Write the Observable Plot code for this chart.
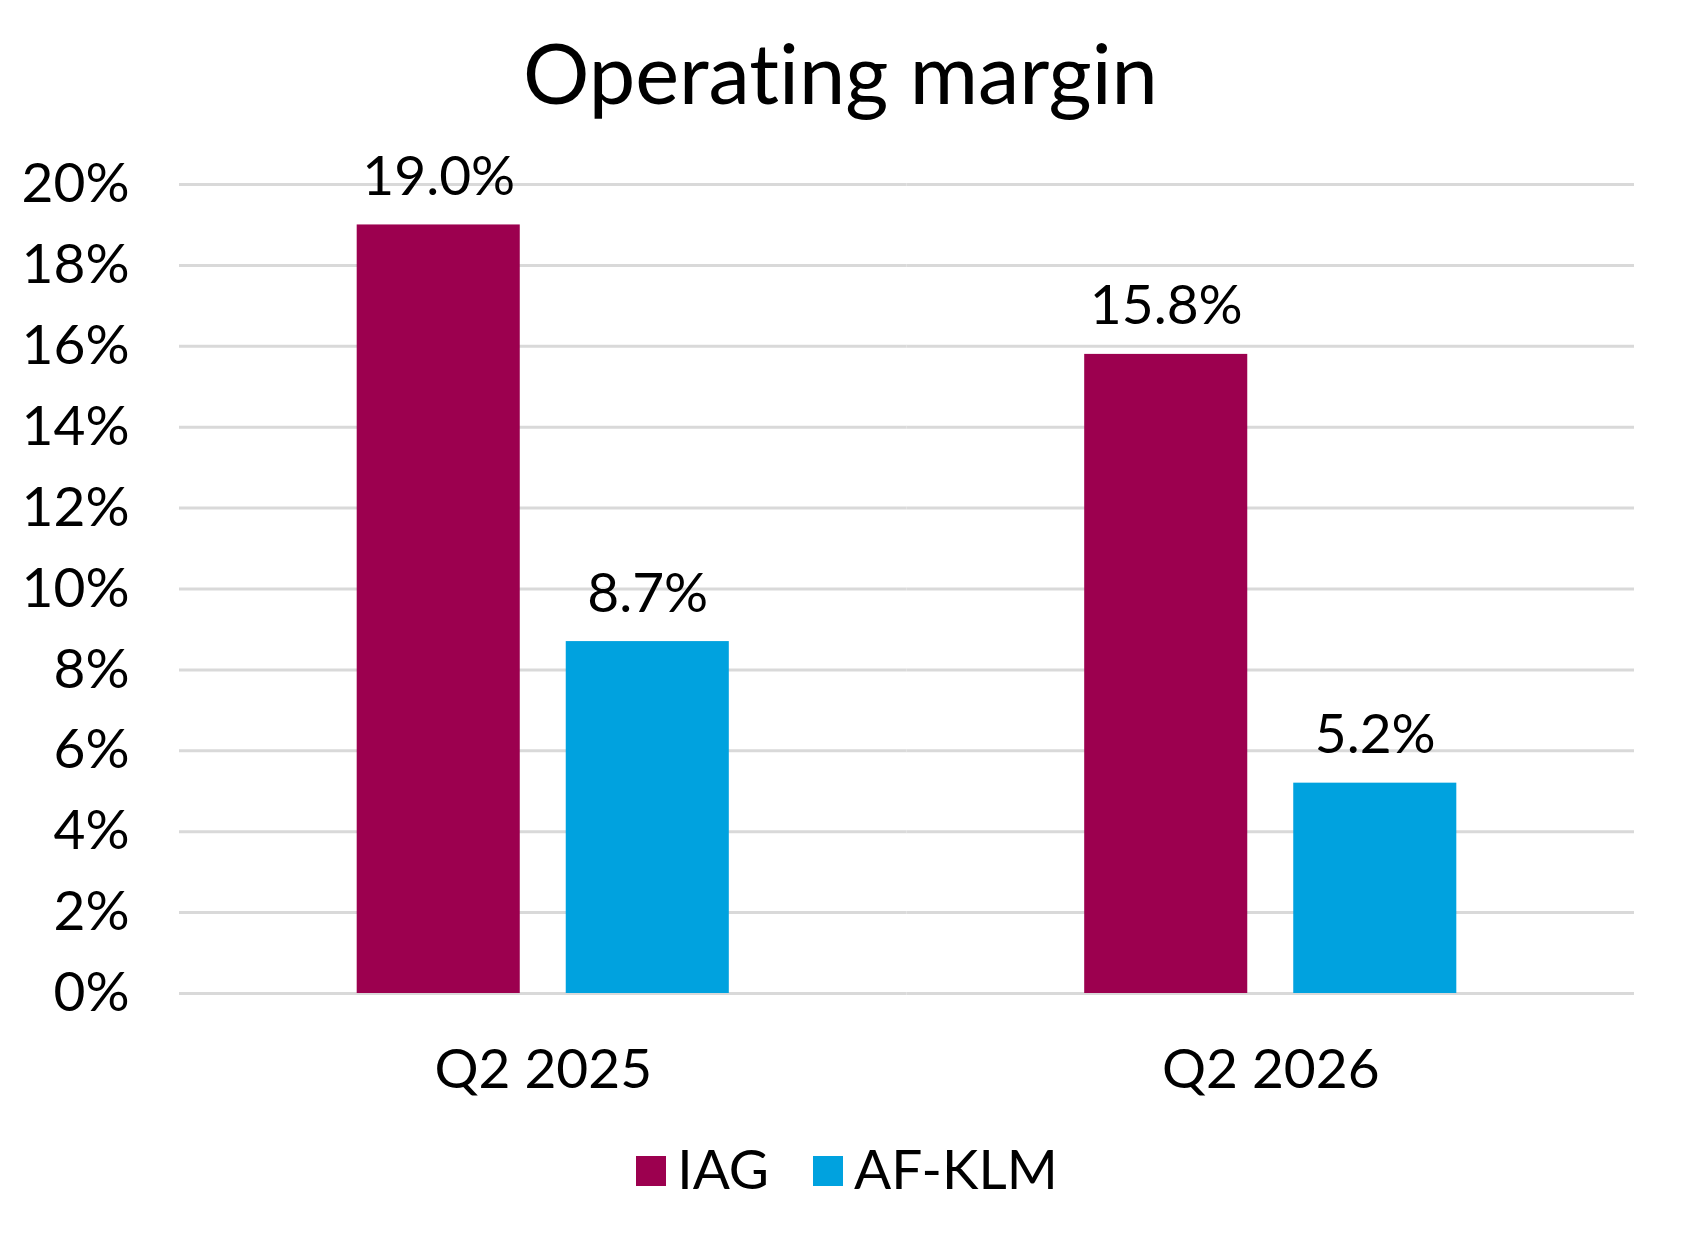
<!DOCTYPE html>
<html>
<head>
<meta charset="utf-8">
<script src="https://cdn.jsdelivr.net/npm/d3@7"></script>
<script src="https://cdn.jsdelivr.net/npm/@observablehq/plot@0.6"></script>
<style>
  html, body { margin: 0; padding: 0; background: #fff; overflow: hidden; }
  body { width: 1681px; font-family: "Lato", sans-serif; color: #000; font-variant-ligatures: none; }
  #title { margin: 0; padding-top: 23px; font-size: 83px; line-height: 1.2; font-weight: 400; text-align: center; }
  #chart svg { display: block; font-variant-ligatures: none; }
  #legend { margin-top: 12px; padding-left: 13px; font-size: 55px; line-height: 1.2; text-align: center; }
  .item { display: inline-block; margin: 0 22px; }
  .sw { display: inline-block; width: 30px; height: 30px; margin-right: 11px; position: relative; top: -3px; vertical-align: baseline; }
</style>
</head>
<body>
<div id="title">Operating margin</div>
<div id="chart"></div>
<div id="legend"></div>
<script>
const quarters = ["Q2 2025", "Q2 2026"];
const airlines = ["IAG", "AF-KLM"];
const colors = ["#9c004f", "#00a2df"];
const iagValues = [19.0, 15.8];
const afklmValues = [8.7, 5.2];
const yTicks = [0, 2, 4, 6, 8, 10, 12, 14, 16, 18, 20];

const data = [];
quarters.forEach((q, i) => {
  data.push({quarter: q, airline: "IAG", value: iagValues[i]});
  data.push({quarter: q, airline: "AF-KLM", value: afklmValues[i]});
});

const chart = Plot.plot({
  width: 1681,
  height: 1000,
  marginTop: 61,
  marginBottom: 130,
  marginLeft: 179,
  marginRight: 47,
  style: {fontFamily: "Lato", fontSize: "55px", color: "#000", background: "#fff"},
  fx: {domain: quarters, padding: 0, label: null, round: false},
  x: {domain: airlines, paddingInner: 0.22, paddingOuter: 0.85, axis: null, round: false},
  y: {domain: [0, 20], label: null},
  color: {domain: airlines, range: colors},
  marks: [
    Plot.ruleY(yTicks, {stroke: "#d9d9d9", strokeWidth: 3}),
    Plot.axisY(yTicks, {tickFormat: d => d + "%", tickSize: 0, tickPadding: 50, fontSize: 55, label: null}),
    Plot.axisFx({anchor: "bottom", tickSize: 0, tickPadding: 55, fontSize: 55, label: null}),
    Plot.barY(data, {fx: "quarter", x: "airline", y: "value", fill: "airline"}),
    Plot.text(data, {fx: "quarter", x: "airline", y: "value", text: d => d.value.toFixed(1) + "%", dy: -30, lineAnchor: "bottom", fontSize: 55, fill: "#000"})
  ]
});
document.getElementById("chart").appendChild(chart);

const legend = document.getElementById("legend");
airlines.forEach((a, i) => {
  const item = document.createElement("span");
  item.className = "item";
  const sw = document.createElement("span");
  sw.className = "sw";
  sw.style.background = colors[i];
  item.appendChild(sw);
  item.appendChild(document.createTextNode(a));
  legend.appendChild(item);
});
</script>
</body>
</html>
